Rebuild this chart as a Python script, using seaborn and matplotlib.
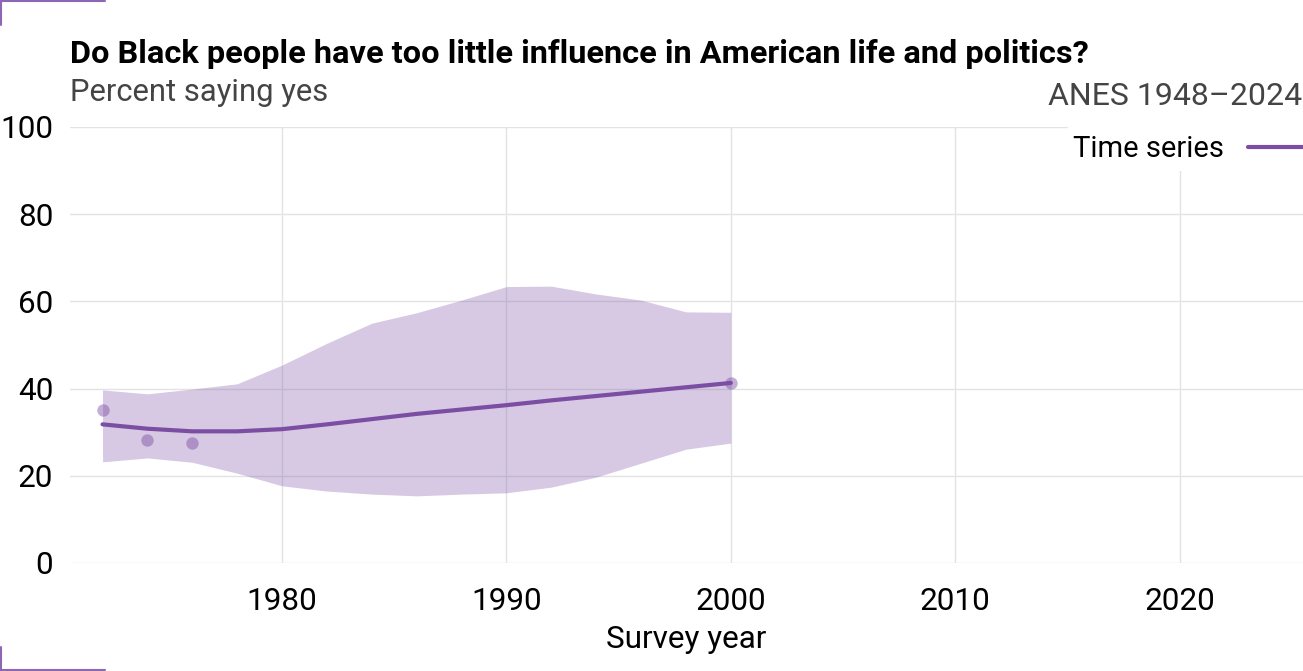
import matplotlib
matplotlib.use("Agg")
import matplotlib.pyplot as plt
from matplotlib.lines import Line2D
import seaborn as sns
import pandas as pd

# observed survey estimates
obs_years = [1972, 1974, 1976, 2000]
obs_pct = [35.2, 28.1, 27.5, 41.3]

# smoothed trend and its band
fit_years = [1972, 1974, 1976, 1978, 1980, 1982, 1984, 1986, 1988, 1990,
             1992, 1994, 1996, 1998, 2000]
fit_pct = [31.8, 30.8, 30.2, 30.2, 30.7, 31.8, 33.0, 34.2, 35.2, 36.2,
           37.3, 38.3, 39.3, 40.3, 41.3]
fit_upper = [39.7, 38.8, 39.9, 41.1, 45.4, 50.4, 55.0, 57.4, 60.3, 63.4,
             63.5, 61.7, 60.3, 57.6, 57.5]
fit_lower = [23.2, 24.1, 23.1, 20.6, 17.7, 16.5, 15.8, 15.4, 15.8, 16.1,
             17.4, 19.7, 22.9, 26.1, 27.5]

x_ticks = [1980, 1990, 2000, 2010, 2020]
y_ticks = [0, 20, 40, 60, 80, 100]

title = "Do Black people have too little influence in American life and politics?"
subtitle = "Percent saying yes"
source = "ANES 1948\u20132024"

purple = "#7b4ea3"

sns.set_theme(style="whitegrid")
plt.rcParams['font.family'] = ['Roboto', 'DejaVu Sans']

df_obs = pd.DataFrame({'year': obs_years, 'pct': obs_pct})
df_fit = pd.DataFrame({'year': fit_years, 'pct': fit_pct,
                       'lo': fit_lower, 'hi': fit_upper})

fig = plt.figure(figsize=(13.03, 6.71), dpi=100)
ax = fig.add_axes([70 / 1303, 1 - 563 / 671, 1 - 70 / 1303, 436 / 671])

ax.fill_between(df_fit['year'], df_fit['lo'], df_fit['hi'],
                color=purple, alpha=0.3, linewidth=0, zorder=2)
sns.scatterplot(data=df_obs, x='year', y='pct', ax=ax, color=purple,
                alpha=0.45, s=80, linewidth=0, zorder=3, legend=False)
sns.lineplot(data=df_fit, x='year', y='pct', ax=ax, color=purple,
             linewidth=3, zorder=4, label='Time series')

ax.set_xlim(1970.55, 2025.5)
ax.set_ylim(0, 100)
ax.set_xticks(x_ticks)
ax.set_yticks(y_ticks)
ax.grid(True, color='#e3e3e3', linewidth=1)
for s in ax.spines.values():
    s.set_visible(False)
ax.tick_params(axis='both', length=0, labelsize=22.7, colors='black')
ax.tick_params(axis='y', pad=12)
ax.tick_params(axis='x', pad=17.5)
ax.set_xlabel('Survey year', fontsize=22.7, color='black', labelpad=6.5)
ax.set_ylabel('')

leg = ax.legend(loc='upper right', bbox_to_anchor=(1.012, 1.0), borderaxespad=0,
                frameon=True, facecolor='white', edgecolor='none', framealpha=1,
                fontsize=21, markerfirst=False, handlelength=2.1,
                handletextpad=0.85, borderpad=0.28, labelcolor='black')
leg.set_zorder(10)

fig.text(70 / 1303, 1 - 63 / 671, title, fontsize=23.4, fontweight='bold',
         color='black', ha='left', va='baseline')
fig.text(70 / 1303, 1 - 101 / 671, subtitle, fontsize=22.3, color='#444444',
         ha='left', va='baseline')
fig.text(1302 / 1303, 1 - 105 / 671, source, fontsize=23, color='#444444',
         ha='right', va='baseline')

# corner marks
corner = '#8c68b4'
fig.add_artist(Line2D([0, 105 / 1303], [1 - 1 / 671, 1 - 1 / 671], color=corner, lw=1.5))
fig.add_artist(Line2D([1 / 1303, 1 / 1303], [1, 1 - 25 / 671], color=corner, lw=1.5))
fig.add_artist(Line2D([0, 105 / 1303], [1.5 / 671, 1.5 / 671], color=corner, lw=1.5))
fig.add_artist(Line2D([1 / 1303, 1 / 1303], [0, 24 / 671], color=corner, lw=1.5))

fig.savefig('out.png', dpi=100)
